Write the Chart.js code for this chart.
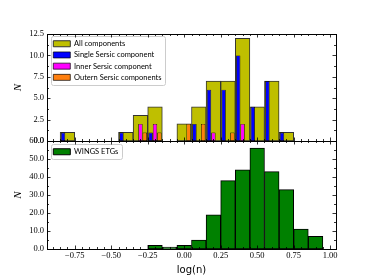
<!DOCTYPE html>
<html>
<head>
<meta charset="utf-8">
<script src="https://cdn.jsdelivr.net/npm/chart.js@4.4.0/dist/chart.umd.min.js"></script>
<style>
  html, body { margin: 0; padding: 0; background: #fff; }
  #wrap { position: relative; width: 374px; height: 280px; }
  #wrap canvas { position: absolute; left: 0; top: 0; }
</style>
</head>
<body>
<div id="wrap">
  <canvas id="topChart" width="374" height="280"></canvas>
  <canvas id="bottomChart" width="374" height="280"></canvas>
</div>
<script>
// log(n) bin centres, bins are 0.1 wide
var binCenters = [-0.8, -0.7, -0.6, -0.5, -0.4, -0.3, -0.2, -0.1, 0.0, 0.1, 0.2, 0.3, 0.4, 0.5, 0.6, 0.7, 0.8, 0.9];

// top panel counts (null = empty bin)
var allComponents = [1, null, null, null, 1, 3, 4, null, 2, 4, 7, 7, 12, 4, 7, 1, null, null];
var singleSersic  = [1, null, null, null, 1, null, 1, null, null, 2, 6, 6, 10, 4, 7, 1, null, null];
var innerSersic   = [null, null, null, null, null, 2, 2, null, null, null, 1, null, 2, null, null, null, null, null];
var outerSersic   = [null, null, null, null, null, 1, 1, null, 2, 2, null, 1, null, null, null, null, null, null];

// bottom panel counts
var wingsEtgs = [null, null, null, null, null, null, 2, 1, 2, 5, 19, 38, 44, 56, 43, 33, 11, 7];

var topLabels = ["All components", "Single Sersic component", "Inner Sersic component", "Outern Sersic components"];
var bottomLabels = ["WINGS ETGs"];

var xTicks = { min: -0.94, max: 1.04, step: 0.25 };

Chart.defaults.animation = false;
Chart.defaults.font.family = "'Liberation Serif', serif";

function fmt(v, d) {
  return v.toFixed(d).replace('-', '\u2212');
}

// inward ticks on all four sides + black frame, like the matplotlib original
var tickMarks = {
  id: 'tickMarks',
  afterDatasetsDraw(chart, args, opts) {
    var ctx = chart.ctx, a = chart.chartArea;
    var xs = chart.scales.x, ys = chart.scales.y;
    ctx.save();
    ctx.strokeStyle = '#000';
    ctx.lineWidth = 0.8;
    ctx.beginPath();
    function xMark(v, len) {
      var px = Math.round(xs.getPixelForValue(v)) + 0.5;
      ctx.moveTo(px, a.bottom); ctx.lineTo(px, a.bottom - len);
      ctx.moveTo(px, a.top); ctx.lineTo(px, a.top + len);
    }
    function yMark(v, len) {
      var py = Math.round(ys.getPixelForValue(v)) + 0.5;
      ctx.moveTo(a.left, py); ctx.lineTo(a.left + len, py);
      ctx.moveTo(a.right, py); ctx.lineTo(a.right - len, py);
    }
    function minors(scale, step, major, fn) {
      for (var k = Math.ceil(scale.min / step - 1e-9); k * step <= scale.max + 1e-9; k++) {
        var v = k * step;
        var r = v / major;
        if (Math.abs(r - Math.round(r)) < 1e-6) continue;
        fn(v, 2);
      }
    }
    xs.ticks.forEach(function (t) { xMark(t.value, 3.5); });
    ys.ticks.forEach(function (t) { yMark(t.value, 3.5); });
    minors(xs, opts.xMinor, opts.xMajor, xMark);
    minors(ys, opts.yMinor, opts.yMajor, yMark);
    ctx.stroke();
    ctx.lineWidth = 1;
    ctx.strokeRect(Math.round(a.left) + 0.5, Math.round(a.top) + 0.5, Math.round(a.right - a.left), Math.round(a.bottom - a.top));
    ctx.restore();
  }
};

// put the legend inside the axes and give it a matplotlib-like frame
var legendPlace = {
  id: 'legendPlace',
  afterLayout(chart, args, opts) {
    var lg = chart.legend, a = chart.chartArea;
    var p = lg.options.labels.padding;
    lg.left = a.left + opts.dx - p;
    lg.top = a.top + opts.dy - p;
    lg.right = a.right;
    lg.bottom = a.bottom;
    lg.width = lg.right - lg.left;
    lg.height = lg.bottom - lg.top;
  },
  beforeDraw(chart, args, opts) {
    var lg = chart.legend, a = chart.chartArea, ctx = chart.ctx;
    var lab = lg.options.labels;
    var p = lab.padding;
    var n = lg.legendItems.length;
    var itemH = Math.max(lab.font.size, lab.boxHeight);
    var colW = lg.columnSizes[0].width;
    var x0 = a.left + opts.dx - 2.5;
    var y0 = a.top + opts.dy - 4;
    var x1 = a.left + opts.dx + colW + 3.5;
    var y1 = a.top + opts.dy + n * itemH + (n - 1) * p + 3.5;
    ctx.save();
    ctx.fillStyle = 'rgba(255,255,255,0.8)';
    ctx.strokeStyle = '#cccccc';
    ctx.lineWidth = 1;
    ctx.beginPath();
    ctx.roundRect(Math.round(x0) + 0.5, Math.round(y0) + 0.5, Math.round(x1 - x0), Math.round(y1 - y0), 2);
    ctx.fill();
    ctx.stroke();
    ctx.restore();
  }
};

function legendOpts() {
  return {
    position: 'chartArea',
    align: 'start',
    labels: {
      boxWidth: 17,
      boxHeight: 6,
      padding: 3.7,
      color: '#000',
      font: { family: 'Lato', size: 7.5 },
      sort: function (a, b) { return a.datasetIndex - b.datasetIndex; }
    }
  };
}

function xScale(showLabels, height) {
  return {
    type: 'linear',
    min: xTicks.min,
    max: xTicks.max,
    offset: false,
    grid: { display: false, drawTicks: false },
    border: { display: false },
    ticks: {
      display: showLabels,
      stepSize: xTicks.step,
      includeBounds: false,
      maxRotation: 0,
      autoSkip: false,
      padding: 2,
      color: '#000',
      font: { size: 8.5 },
      callback: function (v) { return fmt(v, 2); }
    },
    title: {
      display: showLabels,
      text: 'log(n)',
      color: '#000',
      font: { family: "'DejaVu Sans', sans-serif", size: 10 },
      padding: { top: 0, bottom: 4 }
    },
    afterFit: function (s) { s.height = height; }
  };
}

function yScale(max, step) {
  return {
    min: 0,
    max: max,
    grid: { display: false, drawTicks: false },
    border: { display: false },
    ticks: {
      stepSize: step,
      padding: 3,
      color: '#000',
      font: { size: 8.5 },
      callback: function (v) { return fmt(v, 1); }
    },
    title: {
      display: true,
      text: 'N',
      color: '#000',
      font: { family: "'Liberation Serif', serif", size: 11, style: 'italic' },
      padding: { top: 12, bottom: 0 }
    },
    afterFit: function (s) { s.width = 47; }
  };
}

var subBar = { categoryPercentage: 0.9, barPercentage: 1, borderWidth: 0.7, borderColor: '#000', borderSkipped: false };

new Chart(document.getElementById('topChart'), {
  type: 'bar',
  data: {
    labels: binCenters,
    datasets: [
      { label: topLabels[0], data: allComponents, backgroundColor: '#bfbf00', borderColor: '#333', borderWidth: 1,
        borderSkipped: false, grouped: false, categoryPercentage: 1, barPercentage: 1, order: 1 },
      Object.assign({ label: topLabels[1], data: singleSersic, backgroundColor: '#0000ff' }, subBar),
      Object.assign({ label: topLabels[2], data: innerSersic, backgroundColor: '#ff00ff' }, subBar),
      Object.assign({ label: topLabels[3], data: outerSersic, backgroundColor: '#ff7f0e' }, subBar)
    ]
  },
  options: {
    responsive: false,
    devicePixelRatio: 1,
    layout: { padding: { left: 0, top: 34, right: 38, bottom: 139 } },
    scales: { x: xScale(false, 0), y: yScale(12.5, 2.5) },
    plugins: {
      legend: legendOpts(),
      tooltip: { enabled: false },
      tickMarks: { xMinor: 0.05, xMajor: 0.25, yMinor: 1.25, yMajor: 2.5 },
      legendPlace: { dx: 6.3, dy: 6 }
    }
  },
  plugins: [tickMarks, legendPlace]
});

new Chart(document.getElementById('bottomChart'), {
  type: 'bar',
  data: {
    labels: binCenters,
    datasets: [
      { label: bottomLabels[0], data: wingsEtgs, backgroundColor: '#008000', borderColor: '#000', borderWidth: 1,
        borderSkipped: false, grouped: false, categoryPercentage: 1, barPercentage: 1 }
    ]
  },
  options: {
    responsive: false,
    devicePixelRatio: 1,
    layout: { padding: { left: 0, top: 141, right: 38, bottom: 0 } },
    scales: { x: xScale(true, 31), y: yScale(60, 10) },
    plugins: {
      legend: legendOpts(),
      tooltip: { enabled: false },
      tickMarks: { xMinor: 0.05, xMajor: 0.25, yMinor: 5, yMajor: 10 },
      legendPlace: { dx: 6.3, dy: 7 }
    }
  },
  plugins: [tickMarks, legendPlace]
});
</script>
</body>
</html>
